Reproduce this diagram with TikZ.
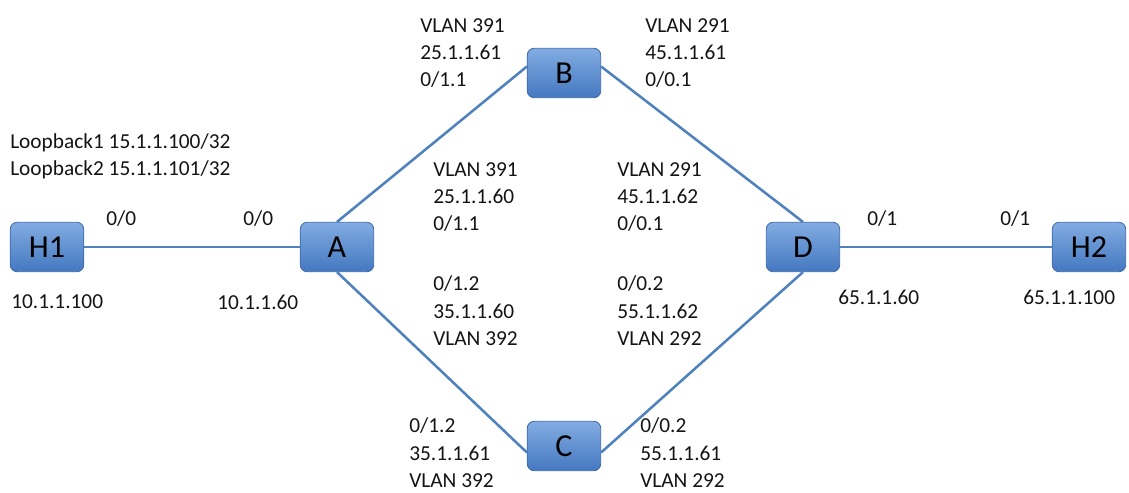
\documentclass[tikz,border=0pt]{standalone}
\usepackage{fontspec}
\setmainfont{Carlito}
\definecolor{linkblue}{RGB}{79,129,189}
\definecolor{boxtop}{RGB}{130,172,226}
\definecolor{boxbot}{RGB}{68,120,192}
\definecolor{boxdraw}{RGB}{60,105,170}
\definecolor{txt}{RGB}{20,20,20}
\begin{document}
\begin{tikzpicture}[x=0.75pt,y=-0.75pt,
  dev/.style={rectangle,rounded corners=5pt,draw=boxdraw,line width=0.6pt,
    top color=boxtop,bottom color=boxbot,minimum width=55pt,minimum height=37pt,
    inner sep=0pt,font=\fontsize{24}{26}\selectfont,text=black},
  lbl/.style={anchor=west,align=left,inner sep=0pt,text=txt,
    font=\fontsize{16}{20.6}\selectfont},
  link/.style={draw=linkblue,line width=1.9pt}]
\useasboundingbox (0,0) rectangle (1129,493);
% devices
\node[dev] (H1) at (47,247) {H1};
\node[dev] (A) at (337,247) {A};
\node[dev] (B) at (564,73) {B};
\node[dev] (C) at (564,446) {C};
\node[dev] (D) at (803,247) {D};
\node[dev] (H2) at (1089,247) {H2};
% links
\draw[link] (H1.east) -- (A.west);
\draw[link] (A.north) -- (B.170);
\draw[link] (A.south) -- (C.190);
\draw[link] (B.10) -- (D.north);
\draw[link] (C.350) -- (D.south);
\draw[link] (D.east) -- (H2.west);
% labels
\node[lbl] (lo) at (10,156.5) {Loopback1 15.1.1.100/32\\Loopback2 15.1.1.101/32};
\node[lbl] (h1p) at (106,219) {0/0};
\node[lbl] (ap) at (243,219) {0/0};
\node[lbl] (h1ip) at (11,302) {10.1.1.100};
\node[lbl] (aip) at (217,302) {10.1.1.60};
\node[lbl] (bl) at (420,53) {VLAN 391\\25.1.1.61\\0/1.1};
\node[lbl] (br) at (645,53) {VLAN 291\\45.1.1.61\\0/0.1};
\node[lbl] (ml1) at (433,197) {VLAN 391\\25.1.1.60\\0/1.1};
\node[lbl] (mr1) at (617,197) {VLAN 291\\45.1.1.62\\0/0.1};
\node[lbl] (ml2) at (433,311) {0/1.2\\35.1.1.60\\VLAN 392};
\node[lbl] (mr2) at (617,311) {0/0.2\\55.1.1.62\\VLAN 292};
\node[lbl] (cl) at (409,453) {0/1.2\\35.1.1.61\\VLAN 392};
\node[lbl] (cr) at (640,453) {0/0.2\\55.1.1.61\\VLAN 292};
\node[lbl] (dp) at (867,219) {0/1};
\node[lbl] (h2p) at (1000,219) {0/1};
\node[lbl] (dip) at (838,297) {65.1.1.60};
\node[lbl] (h2ip) at (1023,297) {65.1.1.100};
\end{tikzpicture}
\end{document}
